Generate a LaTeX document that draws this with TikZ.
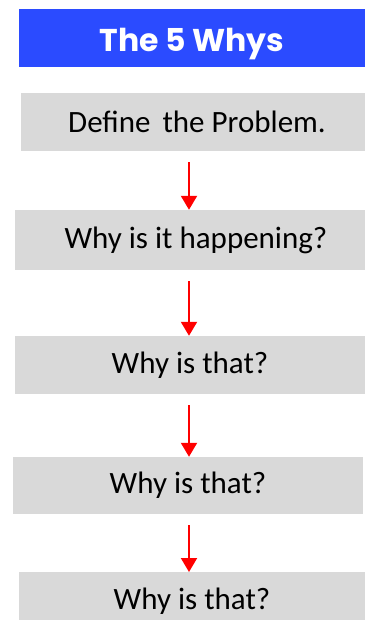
\documentclass[tikz,border=0pt]{standalone}
\usepackage{fontspec}
\setmainfont{Carlito}
\newfontfamily\titlefont{Poppins}
\usetikzlibrary{arrows.meta}
\definecolor{titleblue}{RGB}{43,75,255}
\definecolor{boxgray}{RGB}{217,217,217}
\tikzset{
  titlebox/.style={fill=titleblue, text=white, inner sep=0pt, font=\titlefont\bfseries\fontsize{31.5}{36}\selectfont},
  stepbox/.style={fill=boxgray, text=black, inner sep=0pt, font=\fontsize{31}{36}\selectfont},
  redarrow/.style={draw=red, line width=2pt, -{Triangle[width=16pt,length=14pt]}, shorten <=11pt}
}
\begin{document}
\begin{tikzpicture}[x=1pt,y=-1pt]
\useasboundingbox (0,0) rectangle (365,620);
\node[titlebox, minimum width=346pt, minimum height=58pt, text height=33pt, text depth=6pt] (t) at (192,38) {The 5 Whys};
\node[stepbox, minimum width=344pt, minimum height=58pt] (b1) at (193,122) {\hspace{8pt}Define\ \hspace{5pt}the Problem.};
\node[stepbox, minimum width=350pt, minimum height=60pt] (b2) at (190,240) {\hspace{12pt}Why is it happening?};
\node[stepbox, minimum width=350pt, minimum height=58pt] (b3) at (190,365) {Why is that?};
\node[stepbox, minimum width=350pt, minimum height=57pt] (b4) at (188,485.5) {Why is that?};
\node[stepbox, minimum width=346pt, minimum height=58pt, anchor=north] (b5) at (192,572) {Why is that?};
\coordinate (ax) at (189,0);
\draw[redarrow] (b1.south -| ax) -- (b2.north -| ax);
\draw[redarrow] (b2.south -| ax) -- (b3.north -| ax);
\draw[redarrow] (b3.south -| ax) -- (b4.north -| ax);
\draw[redarrow] (b4.south -| ax) -- (b5.north -| ax);
\end{tikzpicture}
\end{document}
